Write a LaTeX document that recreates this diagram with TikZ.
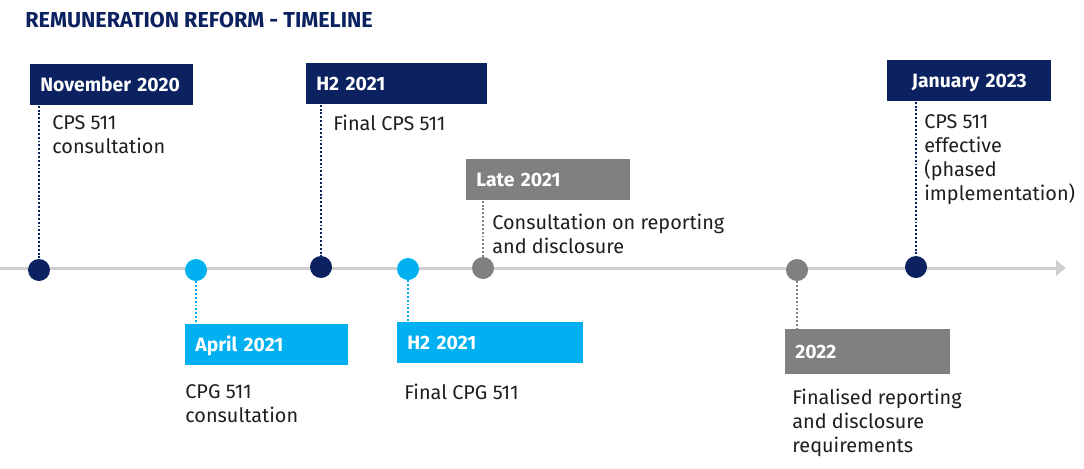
\documentclass[tikz,border=0pt]{standalone}
\usepackage{fontspec}
\setmainfont{Fira Sans}
\usetikzlibrary{arrows.meta,positioning}
\definecolor{navy}{HTML}{0B2160}
\definecolor{sky}{HTML}{00B0F0}
\definecolor{slate}{HTML}{808080}
\definecolor{rail}{HTML}{CFCFCF}
\definecolor{ink}{HTML}{1E1E1E}
\tikzset{
  datebox/.style = {anchor=north west, align=left, inner xsep=2mm, inner ysep=0pt,
                    minimum height=8.2mm, text height=7.6pt, text depth=0pt,
                    font=\fontsize{11}{13}\selectfont\bfseries, text=white},
  navybox/.style = {datebox, fill=navy},
  skybox/.style  = {datebox, fill=sky},
  greybox/.style = {datebox, fill=slate},
  evt/.style     = {circle, inner sep=0pt, minimum size=4.4mm},
  lnk/.style     = {line width=1.1pt, dash pattern=on 1.1pt off 1.1pt},
  note/.style    = {anchor=north west, align=left, inner sep=0pt, text=ink,
                    font=\fontsize{11.3}{13.7}\selectfont}
}

\begin{document}
\begin{tikzpicture}[x=0.2mm, y=-0.2mm]
\useasboundingbox (0,0) rectangle (1084,468);
\node[anchor=base west, inner sep=0pt, text=navy,
      font=\fontsize{12.3}{14}\selectfont\bfseries] (title) at (25,27)
      {REMUNERATION REFORM - TIMELINE};

% timeline
\coordinate (t0) at (0,268);
\coordinate (t1) at (1066,268);
\draw[rail, line width=0.6mm, -{Triangle[length=2mm,width=3mm]}] (t0) -- (t1);

\node[evt, fill=navy]  (nov)  at (39,270)  {};
\node[evt, fill=sky]   (apr)  at (196,270) {};
\node[evt, fill=navy]  (hcps) at (321,267) {};
\node[evt, fill=sky]   (hcpg) at (408,269) {};
\node[evt, fill=slate] (late) at (483,268) {};
\node[evt, fill=slate] (fin)  at (797,270) {};
\node[evt, fill=navy]  (jan)  at (916,267) {};

% date boxes
\node[navybox, text width=28.6mm] (novbox)  at (30,64)  {November 2020};
\node[navybox, text width=32.2mm] (hcpsbox) at (306,63) {H2 2021};
\node[greybox, text width=28.8mm] (latebox) at (466,159) {Late 2021};
\node[navybox, text width=28.8mm, align=center] (janbox) at (887,60) {January 2023};
\node[skybox, text width=28.6mm]  (aprbox)  at (185,324) {April 2021};
\node[skybox, text width=33.2mm]  (hcpgbox) at (397,322) {H2 2021};
\node[greybox, text width=29mm, minimum height=9mm] (finbox) at (785,329) {2022};

\draw[lnk, navy]  (novbox.south -| nov)   -- (nov.north);
\draw[lnk, navy]  (hcpsbox.south -| hcps) -- (hcps.north);
\draw[lnk, slate] (latebox.south -| late) -- (late.north);
\draw[lnk, navy]  (janbox.south -| jan)   -- (jan.north);
\draw[lnk, sky]   (apr.south)  -- (aprbox.north -| apr);
\draw[lnk, sky]   (hcpg.south) -- (hcpgbox.north -| hcpg);
\draw[lnk, slate] (fin.south)  -- (finbox.north -| fin);

% descriptions
\node[note] (novtxt)  at (52,115)  {CPS 511\\consultation};
\node[note] (hcpstxt) at (333,115) {Final CPS 511};
\node[note] (latetxt) at (492,214) {Consultation on reporting\\and disclosure};
\node[note] (jantxt)  at (924,114) {CPS 511\\effective\\(phased\\implementation)};
\node[note] (aprtxt)  at (185,384) {CPG 511\\consultation};
\node[note] (hcpgtxt) at (404,384) {Final CPG 511};
\node[note] (fintxt)  at (792,389) {Finalised reporting\\and disclosure\\requirements};
\end{tikzpicture}
\end{document}
